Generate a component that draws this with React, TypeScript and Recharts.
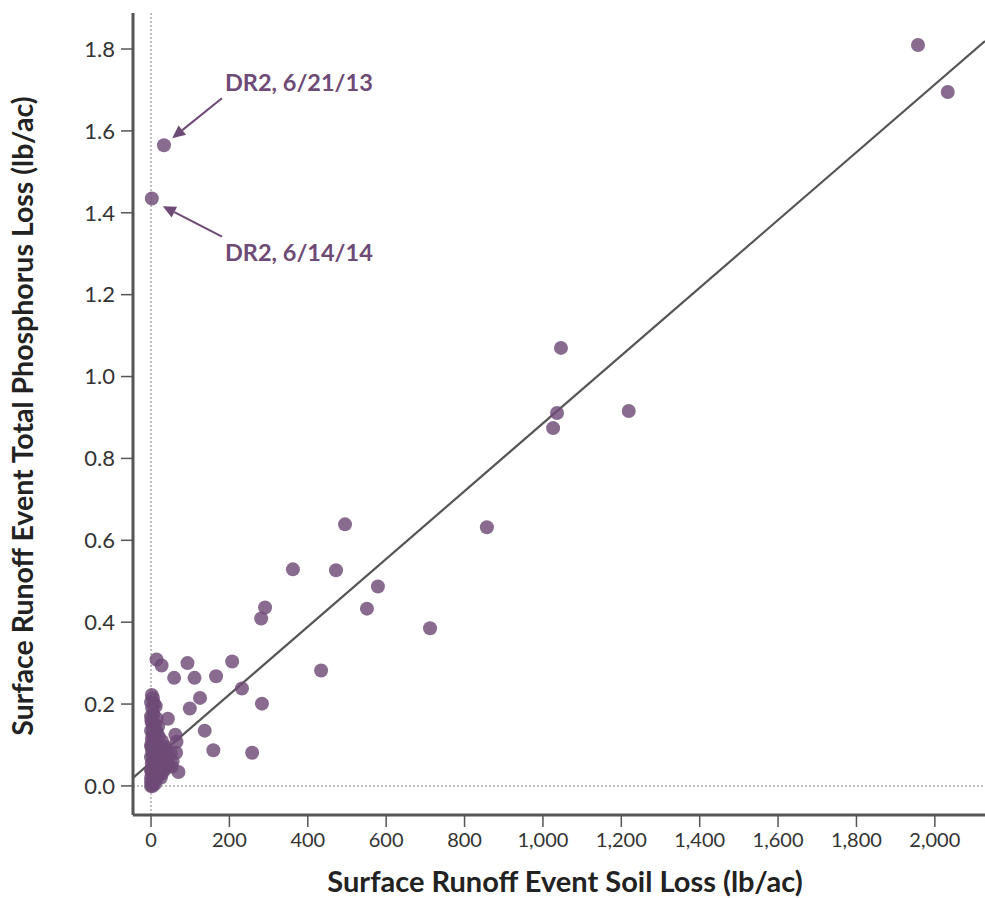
import React from "react";
import {
  ScatterChart,
  Scatter,
  XAxis,
  YAxis,
  ReferenceLine,
  Label,
} from "recharts";

// soil loss (lb/ac) vs total phosphorus loss (lb/ac), one entry per runoff event
const soilLoss = [
  1957, 2033, 33, 2, 1046, 1036, 1026, 1219, 857, 495, 362, 472, 579, 551, 291,
  281, 712, 434, 232, 283, 258,
  14, 27, 93, 207, 59, 111, 166, 125, 99, 43, 137, 159, 70, 62, 65, 44, 36, 53, 64,
  0, 2, 5, 0, 8, 3, 12, 0, 6, 15, 2, 10, 20, 0, 5, 14, 25, 3, 9, 18, 0, 6, 13, 22,
  2, 8, 0, 5, 15, 2, 10, 0, 6, 14, 3, 12, 0, 5, 2, 28, 30, 35, 40, 25, 45, 32, 38,
  50, 55, 28, 20, 18,
  0, 4, 10, 1, 7, 16, 22, 12, 1, 4, 10, 1, 8,
];
const phosphorusLoss = [
  1.81, 1.695, 1.565, 1.435, 1.07, 0.911, 0.874, 0.916, 0.632, 0.639, 0.529,
  0.527, 0.487, 0.433, 0.436, 0.409, 0.385, 0.282, 0.238, 0.201, 0.081,
  0.309, 0.294, 0.3, 0.304, 0.264, 0.264, 0.268, 0.215, 0.189, 0.164, 0.135,
  0.087, 0.034, 0.125, 0.108, 0.072, 0.096, 0.047, 0.081,
  0.0, 0.005, 0.01, 0.02, 0.015, 0.03, 0.025, 0.04, 0.045, 0.04, 0.055, 0.06,
  0.05, 0.07, 0.075, 0.07, 0.06, 0.085, 0.09, 0.085, 0.1, 0.105, 0.1, 0.095,
  0.115, 0.12, 0.135, 0.14, 0.13, 0.155, 0.15, 0.17, 0.175, 0.165, 0.19, 0.195,
  0.205, 0.215, 0.222, 0.03, 0.055, 0.04, 0.06, 0.02, 0.05, 0.075, 0.09, 0.08,
  0.06, 0.11, 0.12, 0.145,
  0.01, 0.0, 0.005, 0.035, 0.065, 0.02, 0.035, 0.08, 0.095, 0.125, 0.135, 0.16,
  0.2,
];

const xTicks = [0, 200, 400, 600, 800, 1000, 1200, 1400, 1600, 1800, 2000];
const yTicks = [0, 0.2, 0.4, 0.6, 0.8, 1.0, 1.2, 1.4, 1.6, 1.8];

// fitted regression line
const fitSlope = 0.000828;
const fitIntercept = 0.0577;

// labelled outliers: label, arrow start and arrow tip (data units)
const annotationLabels = ["DR2, 6/21/13", "DR2, 6/14/14"];
const annotationFrom = [
  [181, 1.68],
  [181, 1.342],
];
const annotationTo = [
  [54, 1.582],
  [30, 1.416],
];
const annotationTextDy = [-13, 18];

const xDomain = [-46, 2128];
const yDomain = [-0.071, 1.888];

const data = soilLoss.map((x, i) => ({ x, y: phosphorusLoss[i] }));

const PURPLE = "#6e4a76";
const AXIS = "#555";
const FONT = "Lato, 'Open Sans', sans-serif";

const Dot = (props: any) => {
  const { cx, cy } = props;
  return <circle cx={cx} cy={cy} r={7} fill={PURPLE} fillOpacity={0.82} />;
};

const makeArrow = (text: string, dy: number) => (props: any) => {
  const { x1, y1, x2, y2 } = props;
  const ang = Math.atan2(y2 - y1, x2 - x1);
  const len = 13;
  const w = 6;
  const bx = x2 - len * Math.cos(ang);
  const by = y2 - len * Math.sin(ang);
  const px = -Math.sin(ang) * w;
  const py = Math.cos(ang) * w;
  return (
    <g>
      <line x1={x1} y1={y1} x2={bx} y2={by} stroke={PURPLE} strokeWidth={2} />
      <polygon
        points={`${x2},${y2} ${bx + px},${by + py} ${bx - px},${by - py}`}
        fill={PURPLE}
      />
      <text
        x={x1 + 3}
        y={y1 + dy}
        dominantBaseline="middle"
        fill={PURPLE}
        fontFamily={FONT}
        fontWeight={700}
        fontSize={23.5}
      >
        {text}
      </text>
    </g>
  );
};

const YTitle = (props: any) => {
  const { viewBox } = props;
  const cx = viewBox.x + 26;
  const cy = viewBox.y + viewBox.height / 2 + 2;
  return (
    <text
      x={cx}
      y={cy}
      transform={`rotate(-90 ${cx} ${cy})`}
      textAnchor="middle"
      dominantBaseline="middle"
      fill="#222"
      fontFamily={FONT}
      fontWeight={700}
      fontSize={28.5}
    >
      Surface Runoff Event Total Phosphorus Loss (lb/ac)
    </text>
  );
};

const XTitle = (props: any) => {
  const { viewBox } = props;
  const cx = viewBox.x + viewBox.width / 2 + 6;
  const cy = viewBox.y + 70;
  return (
    <text
      x={cx}
      y={cy}
      textAnchor="middle"
      dominantBaseline="middle"
      fill="#222"
      fontFamily={FONT}
      fontWeight={700}
      fontSize={29}
    >
      Surface Runoff Event Soil Loss (lb/ac)
    </text>
  );
};

export default function App() {
  return (
    <div style={{ position: "absolute", left: 0, top: 0, background: "#fff" }}>
      <ScatterChart
        width={985}
        height={898}
        margin={{ top: 13, right: 0, bottom: 0, left: 0 }}
      >
        <XAxis
          dataKey="x"
          type="number"
          domain={xDomain}
          ticks={xTicks}
          allowDataOverflow
          height={83}
          tickSize={12}
          tickMargin={6}
          tickFormatter={(v: number) => v.toLocaleString("en-US")}
          axisLine={{ stroke: AXIS, strokeWidth: 3 }}
          tickLine={{ stroke: AXIS, strokeWidth: 1.5 }}
          tick={{ fill: "#333", fontSize: 20, fontFamily: FONT }}
        >
          <Label content={<XTitle />} />
        </XAxis>
        <YAxis
          dataKey="y"
          type="number"
          domain={yDomain}
          ticks={yTicks}
          allowDataOverflow
          width={133}
          tickSize={12}
          tickMargin={6}
          tickFormatter={(v: number) => v.toFixed(1)}
          axisLine={{ stroke: AXIS, strokeWidth: 3 }}
          tickLine={{ stroke: AXIS, strokeWidth: 1.5 }}
          tick={{ fill: "#333", fontSize: 22, fontFamily: FONT }}
        >
          <Label content={<YTitle />} />
        </YAxis>
        <ReferenceLine x={0} stroke="#aaa" strokeWidth={1.5} strokeDasharray="2 2" />
        <ReferenceLine y={0} stroke="#aaa" strokeWidth={1.5} strokeDasharray="2 2" />
        <Scatter data={data} shape={<Dot />} isAnimationActive={false} />
        <ReferenceLine
          segment={[
            { x: xDomain[0], y: fitIntercept + fitSlope * xDomain[0] },
            { x: xDomain[1], y: fitIntercept + fitSlope * xDomain[1] },
          ]}
          stroke="#555"
          strokeWidth={2.2}
          ifOverflow="visible"
        />
        {annotationLabels.map((t, i) => (
          <ReferenceLine
            key={t}
            segment={[
              { x: annotationFrom[i][0], y: annotationFrom[i][1] },
              { x: annotationTo[i][0], y: annotationTo[i][1] },
            ]}
            ifOverflow="visible"
            shape={makeArrow(t, annotationTextDy[i])}
          />
        ))}
      </ScatterChart>
    </div>
  );
}
